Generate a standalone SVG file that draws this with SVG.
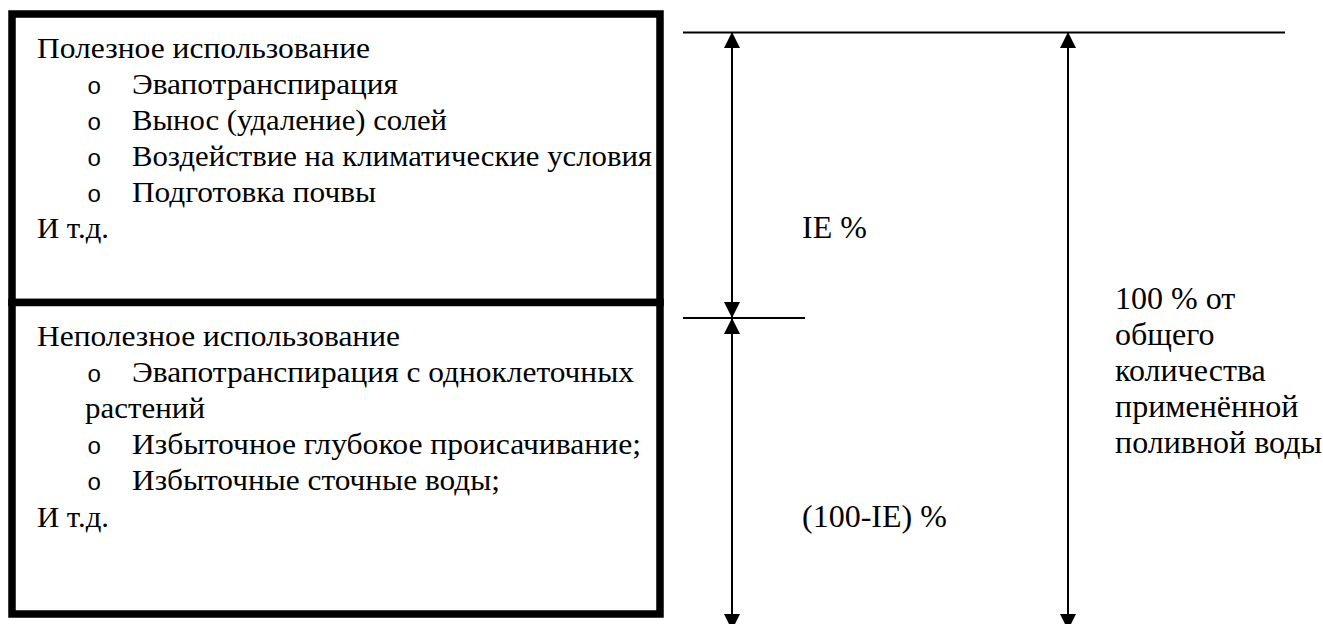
<svg xmlns="http://www.w3.org/2000/svg" width="1323" height="624" viewBox="0 0 1323 624">
  <defs>
    <marker id="ah" viewBox="0 0 16 16" refX="16" refY="8" markerWidth="16" markerHeight="16" markerUnits="userSpaceOnUse" orient="auto-start-reverse">
      <path d="M0,0 L16,8 L0,16 Z" fill="#000"/>
    </marker>
    <style>
      .box{fill:#fff;stroke:#000;stroke-width:7.5}
      .ln{stroke:#000;stroke-width:2;fill:none}
      .ar{stroke:#000;stroke-width:2;fill:none;marker-start:url(#ah);marker-end:url(#ah)}
    </style>
  </defs>
  <rect width="1323" height="624" fill="#fff"/>

  <g id="useful">
    <rect class="box" x="12" y="14" width="648" height="288.5"/>
    <g font-family="'Liberation Serif', serif" font-size="30" fill="#000">
      <text x="37" y="58" textLength="333" lengthAdjust="spacingAndGlyphs">Полезное использование</text>
      <text x="132" y="94" textLength="266" lengthAdjust="spacingAndGlyphs">Эвапотранспирация</text>
      <text x="132" y="130" textLength="315" lengthAdjust="spacingAndGlyphs">Вынос (удаление) солей</text>
      <text x="132" y="166" textLength="520" lengthAdjust="spacingAndGlyphs">Воздействие на климатические условия</text>
      <text x="132" y="202" textLength="244" lengthAdjust="spacingAndGlyphs">Подготовка почвы</text>
      <text x="37" y="238" textLength="72" lengthAdjust="spacingAndGlyphs">И т.д.</text>
    </g>
    <g font-family="'Liberation Mono', monospace" font-size="24" fill="#000">
      <text x="87" y="94">o</text>
      <text x="87" y="130">o</text>
      <text x="87" y="166">o</text>
      <text x="87" y="202">o</text>
    </g>
  </g>

  <g id="non-useful">
    <rect class="box" x="12" y="302.5" width="648" height="311.5"/>
    <g font-family="'Liberation Serif', serif" font-size="30" fill="#000">
      <text x="37" y="346" textLength="363" lengthAdjust="spacingAndGlyphs">Неполезное использование</text>
      <text x="132" y="382" textLength="502" lengthAdjust="spacingAndGlyphs">Эвапотранспирация с одноклеточных</text>
      <text x="85" y="418" textLength="120" lengthAdjust="spacingAndGlyphs">растений</text>
      <text x="132" y="454" textLength="509" lengthAdjust="spacingAndGlyphs">Избыточное глубокое происачивание;</text>
      <text x="132" y="490" textLength="368" lengthAdjust="spacingAndGlyphs">Избыточные сточные воды;</text>
      <text x="37" y="527" textLength="72" lengthAdjust="spacingAndGlyphs">И т.д.</text>
    </g>
    <g font-family="'Liberation Mono', monospace" font-size="24" fill="#000">
      <text x="87" y="382">o</text>
      <text x="87" y="454">o</text>
      <text x="87" y="490">o</text>
    </g>
  </g>

  <g id="connectors">
    <line class="ln" x1="683" y1="32.5" x2="1285" y2="32.5"/>
    <line class="ln" x1="683" y1="318" x2="805" y2="318"/>
    <line class="ar" x1="732" y1="32" x2="732" y2="318"/>
    <line class="ar" x1="732" y1="318" x2="732" y2="630"/>
    <line class="ar" x1="1068" y1="32" x2="1068" y2="630"/>
  </g>

  <g font-family="'Liberation Serif', serif" font-size="32" fill="#000">
    <g id="label-ie">
      <text x="802" y="238">IE %</text>
    </g>
    <g id="label-rest">
      <text x="802" y="527">(100-IE) %</text>
    </g>
    <g id="label-total">
      <text x="1115" y="309">100 % от</text>
      <text x="1115" y="345">общего</text>
      <text x="1115" y="381">количества</text>
      <text x="1115" y="417">применённой</text>
      <text x="1115" y="453">поливной воды</text>
    </g>
  </g>
</svg>
